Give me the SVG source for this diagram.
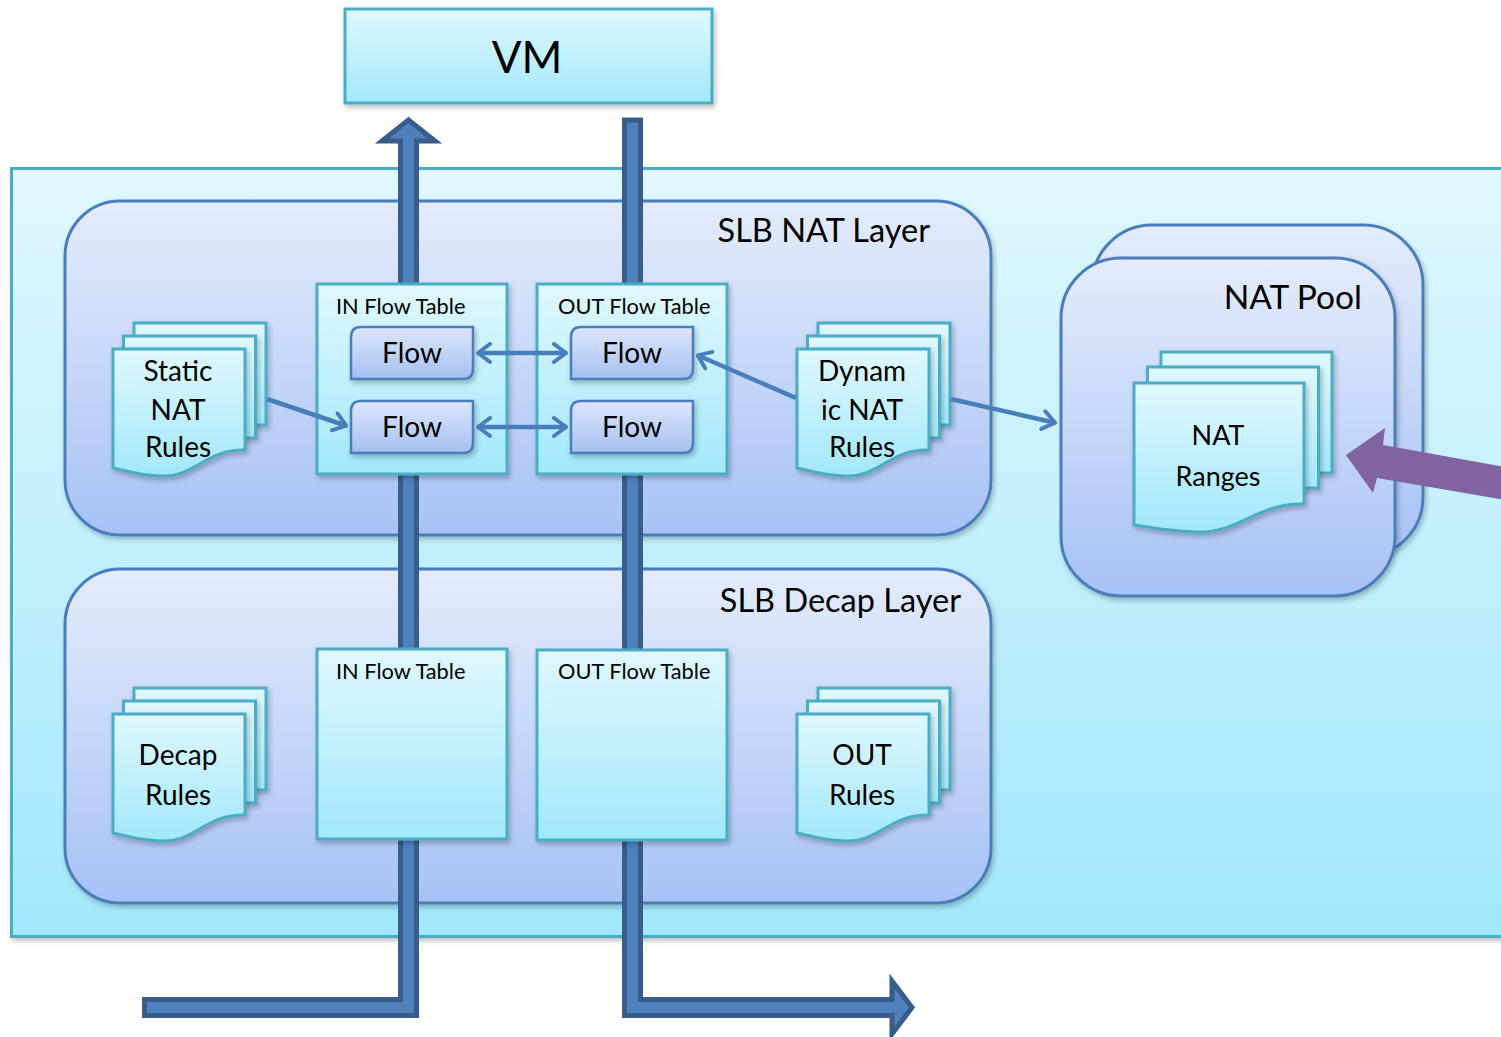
<svg xmlns="http://www.w3.org/2000/svg" width="1501" height="1037" viewBox="0 0 1501 1037">
<defs>
  <linearGradient id="gCyan" x1="0" y1="0" x2="0" y2="1">
    <stop offset="0" stop-color="#e0f8fe"/>
    <stop offset="1" stop-color="#a2e8fb"/>
  </linearGradient>
  <linearGradient id="gBlue" x1="0" y1="0" x2="0" y2="1">
    <stop offset="0" stop-color="#e4ecfc"/>
    <stop offset="1" stop-color="#a7c2f6"/>
  </linearGradient>
  <linearGradient id="gFlow" x1="0" y1="0" x2="0" y2="1">
    <stop offset="0" stop-color="#dde7fb"/>
    <stop offset="1" stop-color="#a5bff2"/>
  </linearGradient>
  <filter id="sh" x="-10%" y="-10%" width="130%" height="130%">
    <feDropShadow dx="2" dy="3" stdDeviation="2.5" flood-color="#000" flood-opacity="0.25"/>
  </filter>
  <marker id="chev" viewBox="0 0 16 22" refX="15" refY="11" markerWidth="16" markerHeight="22" markerUnits="userSpaceOnUse" orient="auto-start-reverse">
    <path d="M2,2 L14,11 L2,20" fill="none" stroke="#4a7ebb" stroke-width="4" stroke-linecap="round" stroke-linejoin="round"/>
  </marker>
  <style>
    .cyan { fill: url(#gCyan); stroke: #4bacc6; stroke-width: 3; }
    .layer { fill: url(#gBlue); stroke: #4a7ebb; stroke-width: 3; }
    .flow { fill: url(#gFlow); stroke: #4a7ebb; stroke-width: 2.5; }
    .page { fill: url(#gCyan); stroke: #4bacc6; stroke-width: 3; }
    .big { fill: #4f81bd; stroke: #385d8a; stroke-width: 5; stroke-linejoin: miter; }
    .conn { fill: none; stroke: #4a7ebb; stroke-width: 4.5; }
    text { font-family: Lato, "Open Sans", "Liberation Sans", sans-serif; fill: #000; }
    .t28 { font-size: 28px; text-anchor: middle; }
    .tab { font-size: 21.8px; }
    .title { font-size: 32.5px; text-anchor: end; }
  </style>
</defs>

<!-- outer container -->
<g id="host">
  <rect x="11.5" y="168.5" width="1500" height="768" class="cyan" filter="url(#sh)"/>
</g>

<!-- VM -->
<g id="vm">
  <rect x="345" y="9" width="367" height="94" class="cyan" filter="url(#sh)"/>
  <text x="527" y="73" style="font-size:44px" text-anchor="middle">VM</text>
</g>

<!-- NAT Pool -->
<g id="nat-pool">
  <rect x="1092" y="225" width="331" height="332" rx="60" class="layer" filter="url(#sh)"/>
  <rect x="1061" y="258" width="334" height="338" rx="60" class="layer" filter="url(#sh)"/>
  <text x="1362" y="309" class="title" style="font-size:33.5px">NAT Pool</text>
</g>

<!-- Layers -->
<g id="slb-nat-layer">
  <rect x="65" y="201" width="926" height="334" rx="55" class="layer" filter="url(#sh)"/>
  <text x="930" y="242" class="title">SLB NAT Layer</text>
</g>
<g id="slb-decap-layer">
  <rect x="65" y="569" width="926" height="334" rx="55" class="layer" filter="url(#sh)"/>
  <text x="961" y="612" class="title">SLB Decap Layer</text>
</g>

<!-- big traffic arrows -->
<g id="traffic">
  <path class="big" d="M144.5,999.5 L400.5,999.5 L400.5,141 L382,141 L408.5,120 L435,141 L416.5,141 L416.5,1015.5 L144.5,1015.5 Z"/>
  <path class="big" d="M624.5,120 L640.5,120 L640.5,999.5 L892,999.5 L892,981 L912,1007.5 L892,1034 L892,1015.5 L624.5,1015.5 Z"/>
</g>

<!-- Flow tables -->
<g id="nat-in-table">
  <rect x="317" y="284" width="190" height="190" class="cyan" filter="url(#sh)"/>
  <text x="336" y="314" class="tab">IN Flow Table</text>
</g>
<g id="nat-out-table">
  <rect x="537" y="284" width="190" height="190" class="cyan" filter="url(#sh)"/>
  <text x="558" y="314" class="tab">OUT Flow Table</text>
</g>
<g id="decap-in-table">
  <rect x="317" y="649" width="190" height="190" class="cyan" filter="url(#sh)"/>
  <text x="336" y="679" class="tab">IN Flow Table</text>
</g>
<g id="decap-out-table">
  <rect x="537" y="650" width="190" height="190" class="cyan" filter="url(#sh)"/>
  <text x="558" y="679" class="tab">OUT Flow Table</text>
</g>

<!-- Flow entries (round diagonal corners) -->
<g id="flow-in-1">
  <path class="flow" d="M361,327 L473,327 L473,369 Q473,379 463,379 L351,379 L351,337 Q351,327 361,327 Z" filter="url(#sh)"/>
  <text x="412" y="363" class="t28">Flow</text>
</g>
<g id="flow-in-2">
  <path class="flow" d="M361,401 L473,401 L473,443 Q473,453 463,453 L351,453 L351,411 Q351,401 361,401 Z" filter="url(#sh)"/>
  <text x="412" y="437" class="t28">Flow</text>
</g>
<g id="flow-out-1">
  <path class="flow" d="M581,327 L693,327 L693,369 Q693,379 683,379 L571,379 L571,337 Q571,327 581,327 Z" filter="url(#sh)"/>
  <text x="632" y="363" class="t28">Flow</text>
</g>
<g id="flow-out-2">
  <path class="flow" d="M581,401 L693,401 L693,443 Q693,453 683,453 L571,453 L571,411 Q571,401 581,401 Z" filter="url(#sh)"/>
  <text x="632" y="437" class="t28">Flow</text>
</g>

<!-- Multi-document stacks -->
<g id="static-nat-rules">
  <rect x="134" y="323" width="132" height="102" class="page" filter="url(#sh)"/>
  <rect x="123.5" y="336" width="132" height="102" class="page" filter="url(#sh)"/>
  <path class="page" d="M113,349 L245,349 L245,450 C205,449 195,478 160,476 C135,475 125,470 113,468 Z" filter="url(#sh)"/>
  <text x="178" y="381" class="t28">Static</text>
  <text x="178" y="420" class="t28">NAT</text>
  <text x="178" y="457" class="t28">Rules</text>
</g>
<g id="dynamic-nat-rules">
  <rect x="818" y="323" width="132" height="102" class="page" filter="url(#sh)"/>
  <rect x="807.5" y="336" width="132" height="102" class="page" filter="url(#sh)"/>
  <path class="page" d="M797,349 L929,349 L929,450 C889,449 879,478 844,476 C819,475 809,470 797,468 Z" filter="url(#sh)"/>
  <text x="862" y="381" class="t28">Dynam</text>
  <text x="862" y="420" class="t28">ic NAT</text>
  <text x="862" y="457" class="t28">Rules</text>
</g>
<g id="decap-rules">
  <rect x="134" y="688" width="132" height="102" class="page" filter="url(#sh)"/>
  <rect x="123.5" y="701" width="132" height="102" class="page" filter="url(#sh)"/>
  <path class="page" d="M113,714 L245,714 L245,815 C205,814 195,843 160,841 C135,840 125,835 113,833 Z" filter="url(#sh)"/>
  <text x="178" y="765" class="t28">Decap</text>
  <text x="178" y="805" class="t28">Rules</text>
</g>
<g id="out-rules">
  <rect x="818" y="688" width="132" height="102" class="page" filter="url(#sh)"/>
  <rect x="807.5" y="701" width="132" height="102" class="page" filter="url(#sh)"/>
  <path class="page" d="M797,714 L929,714 L929,815 C889,814 879,843 844,841 C819,840 809,835 797,833 Z" filter="url(#sh)"/>
  <text x="862" y="765" class="t28">OUT</text>
  <text x="862" y="805" class="t28">Rules</text>
</g>
<g id="nat-ranges">
  <rect x="1161" y="352" width="171" height="121" class="page" filter="url(#sh)"/>
  <rect x="1147.5" y="367" width="171" height="121" class="page" filter="url(#sh)"/>
  <path class="page" d="M1134,383 L1304,383 L1304,504 C1255,503 1240,534 1195,532 C1165,531 1150,527 1134,525 Z" filter="url(#sh)"/>
  <text x="1218" y="445" class="t28" style="font-size:27px">NAT</text>
  <text x="1218" y="486" class="t28" style="font-size:27px">Ranges</text>
</g>

<!-- connectors -->
<g id="connectors">
  <line class="conn" x1="477" y1="353" x2="567" y2="353" marker-start="url(#chev)" marker-end="url(#chev)"/>
  <line class="conn" x1="477" y1="427" x2="567" y2="427" marker-start="url(#chev)" marker-end="url(#chev)"/>
  <line class="conn" x1="267" y1="399" x2="347" y2="426" marker-end="url(#chev)"/>
  <line class="conn" x1="796" y1="398" x2="697" y2="355" marker-end="url(#chev)"/>
  <line class="conn" x1="951" y1="399" x2="1056" y2="423" marker-end="url(#chev)"/>
  <path d="M1346,455 L1385,428 L1383,445 L1505,467 L1505,500 L1377,478 L1373,493 Z" fill="#8064a2"/>
</g>
</svg>
